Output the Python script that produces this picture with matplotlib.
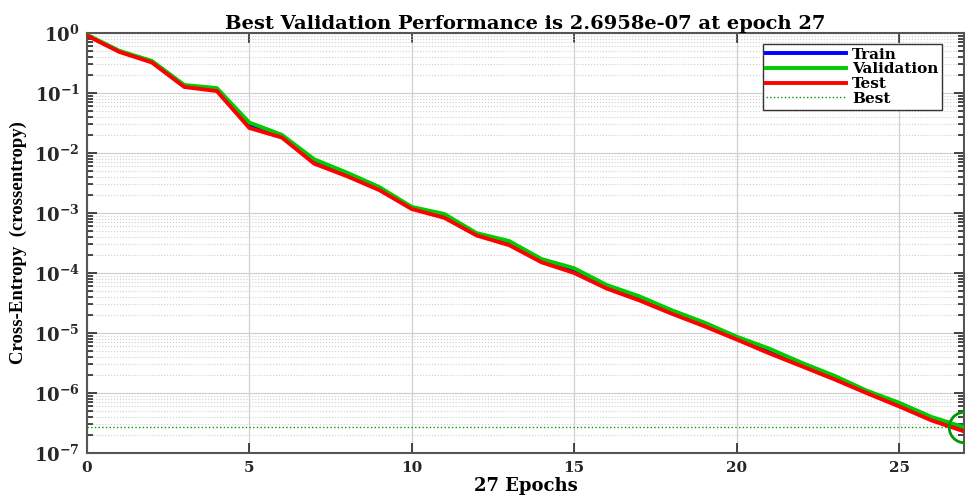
import numpy as np
import matplotlib
matplotlib.use("Agg")
import matplotlib.pyplot as plt
from matplotlib.ticker import LogLocator, FixedLocator, FuncFormatter, NullFormatter

plt.rcParams['font.family'] = ['DejaVu Serif']
plt.rcParams['font.weight'] = 'bold'
plt.rcParams['mathtext.fontset'] = 'custom'
plt.rcParams['mathtext.rm'] = 'DejaVu Serif:bold'
plt.rcParams['mathtext.bf'] = 'DejaVu Serif:bold'
plt.rcParams['mathtext.default'] = 'rm'

epochs = np.arange(0, 28)
validation = [0.93, 0.50, 0.34, 0.135, 0.12, 0.032, 0.020, 0.0078, 0.0047, 0.0027,
              0.00126, 0.00096, 0.00046, 0.00034, 0.00017, 0.00012, 6.3e-5, 4.1e-5,
              2.4e-5, 1.5e-5, 8.7e-6, 5.5e-6, 3.2e-6, 1.95e-6, 1.1e-6, 6.9e-7,
              4.0e-7, 2.6958e-7]
train = [0.91, 0.49, 0.33, 0.128, 0.112, 0.028, 0.019, 0.0071, 0.0043, 0.0025,
         0.0012, 0.00088, 0.00044, 0.00031, 0.00016, 0.000108, 5.8e-5, 3.8e-5,
         2.2e-5, 1.4e-5, 8.2e-6, 5.0e-6, 3.0e-6, 1.8e-6, 1.05e-6, 6.4e-7,
         3.7e-7, 2.45e-7]
test = [0.90, 0.48, 0.32, 0.125, 0.107, 0.026, 0.018, 0.0066, 0.0041, 0.0024,
        0.00116, 0.00083, 0.00042, 0.00029, 0.00015, 0.0001, 5.5e-5, 3.5e-5,
        2.1e-5, 1.3e-5, 7.8e-6, 4.6e-6, 2.8e-6, 1.7e-6, 1.0e-6, 6.0e-7,
        3.5e-7, 2.3e-7]
best_epoch = 27
best_value = 2.6958e-07

fig = plt.figure(figsize=(9.65, 5.04), dpi=100)
ax = fig.add_axes([0.090, 0.101, 0.909, 0.834])

ax.plot(epochs, train, color='#0000ff', lw=2.8, label='Train', zorder=3)
ax.plot(epochs, validation, color='#00cc00', lw=2.8, label='Validation', zorder=3)
ax.plot(epochs, test, color='#ff0000', lw=2.8, label='Test', zorder=4)
ax.axhline(best_value, color='#009900', lw=1.0, ls=':', label='Best', zorder=2)
ax.plot([best_epoch], [best_value], marker='o', ms=22, mfc='none', mec='#009900',
        mew=2.0, clip_on=False, zorder=5)

ax.set_yscale('log')
ax.set_xlim(0, 27)
ax.set_ylim(1e-7, 1)
ax.xaxis.set_major_locator(FixedLocator([0, 5, 10, 15, 20, 25]))
ax.yaxis.set_major_locator(LogLocator(base=10, numticks=20))
ax.yaxis.set_minor_locator(LogLocator(base=10, subs=np.arange(2, 10), numticks=20))
ax.yaxis.set_minor_formatter(NullFormatter())
ax.yaxis.set_major_formatter(FuncFormatter(lambda v, p: r'$10^{%d}$' % round(np.log10(v))))

ax.grid(True, which='major', color='#d0d0d0', lw=0.9, ls='-')
ax.grid(True, which='minor', axis='y', color='#d0d0d0', lw=0.8, ls=':')
ax.set_axisbelow(True)

ax.tick_params(which='both', direction='in', top=True, right=True, colors='#262626',
               width=1.2)
ax.tick_params(axis='y', labelsize=13, pad=5)
ax.tick_params(axis='x', labelsize=11, pad=6)
ax.tick_params(which='major', length=7)
ax.tick_params(which='minor', length=4)
for s in ax.spines.values():
    s.set_color('#555555')
    s.set_linewidth(1.5)

ax.set_title('Best Validation Performance is 2.6958e-07 at epoch 27',
             fontsize=14, fontweight='bold', pad=3)
ax.set_xlabel('27 Epochs', fontsize=13, fontweight='bold', labelpad=1)
ax.set_ylabel('Cross-Entropy  (crossentropy)', fontsize=13.5, fontweight='bold',
              family='Liberation Serif', labelpad=5)

leg = ax.legend(loc='upper right', bbox_to_anchor=(0.975, 0.974), borderaxespad=0,
                fontsize=11, handlelength=5.2, handletextpad=0.4, borderpad=0.25,
                labelspacing=0.05, fancybox=False, framealpha=1, edgecolor='#333333')
leg.get_frame().set_linewidth(1.0)

fig.savefig('out.png', dpi=100)
